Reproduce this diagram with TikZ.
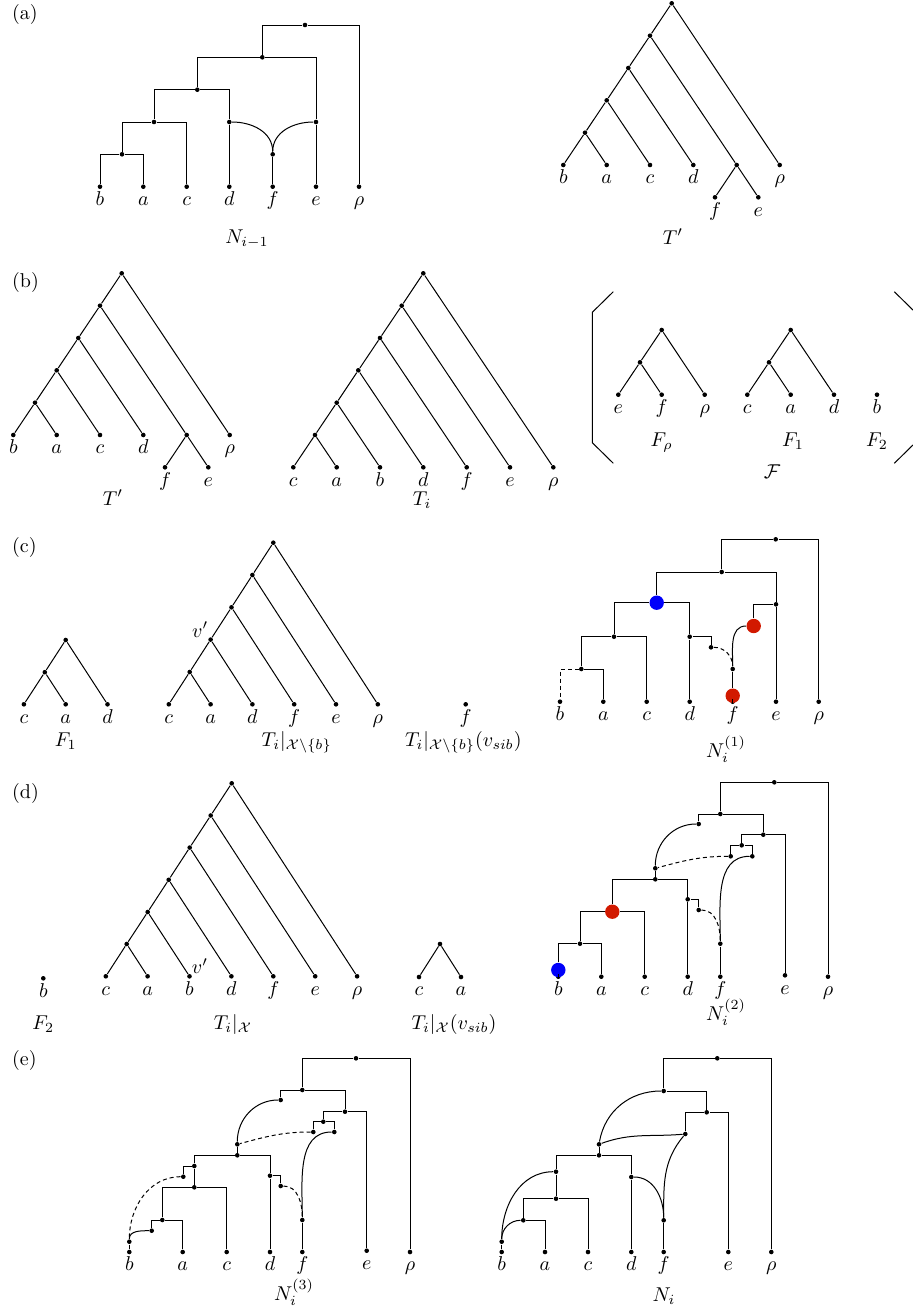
\documentclass[tikz,border=0pt]{standalone}
\usepackage{amsmath}
\usepackage{tikz}

\definecolor{nodeblue}{RGB}{0,0,250}
\definecolor{nodered}{RGB}{210,25,0}

\tikzset{
    dot/.style={circle, fill, inner sep=0pt, minimum size=2.3pt},
    leaflab/.style={inner sep=1.3pt, text height=1.5ex, text depth=.25ex},
    leaf/.style={dot, label={[leaflab]below:$#1$}},
    bigdot/.style={circle, fill=#1, inner sep=0pt, minimum size=7.2pt},
    dashedge/.style={dash pattern=on 2pt off 1.5pt},
    panel/.style={anchor=west},
    caption/.style={anchor=base},
}

\begin{document}
\begin{tikzpicture}[x=0.5pt, y=-0.5pt, line width=0.5pt]
    \useasboundingbox (0,0) rectangle (912,1312);

    % (a) N_{i-1} and T'
    \node[panel] (labA) at (5,14) {(a)};
    \node[leaf=b] (Na-b) at (100,186.7) {};
    \node[leaf=a] (Na-a) at (143.3,186.7) {};
    \node[leaf=c] (Na-c) at (186.7,186.7) {};
    \node[leaf=d] (Na-d) at (229.3,186.7) {};
    \node[leaf=f] (Na-f) at (272.7,186.7) {};
    \node[leaf=e] (Na-e) at (316,186.7) {};
    \node[leaf=\rho] (Na-r) at (359,186.7) {};
    \node[dot] (Na-1) at (122,154.3) {};
    \node[dot] (Na-2) at (154,122) {};
    \node[dot] (Na-3) at (197.3,89.7) {};
    \node[dot] (Na-d1) at (229.3,122) {};
    \node[dot] (Na-e1) at (316,122) {};
    \node[dot] (Na-f1) at (272.7,154.3) {};
    \node[dot] (Na-4) at (262.3,57.3) {};
    \node[dot] (Na-5) at (305,25) {};
    \node[caption] (capNa) at (247,243) {$N_{i-1}$};
    \draw (Na-b) |- (Na-1) -| (Na-a);
    \draw (Na-1) |- (Na-2) -| (Na-c);
    \draw (Na-2) |- (Na-3) -| (Na-d1);
    \draw (Na-d1) -- (Na-d);
    \draw (Na-d1) to[out=0,in=90] (Na-f1);
    \draw (Na-e1) to[out=180,in=90] (Na-f1);
    \draw (Na-f1) -- (Na-f);
    \draw (Na-e1) -- (Na-e);
    \draw (Na-3) |- (Na-4) -| (Na-e1);
    \draw (Na-4) |- (Na-5) -| (Na-r);

    \node[dot] (Ta-0) at (671.7,3.3) {};
    \node[dot] (Ta-1) at (650,35.7) {};
    \node[dot] (Ta-2) at (628.3,68) {};
    \node[dot] (Ta-3) at (606.7,100.3) {};
    \node[dot] (Ta-4) at (585,132.7) {};
    \node[leaf=b] (Ta-b) at (563.3,165) {};
    \node[leaf=a] (Ta-a) at (606.7,165) {};
    \node[leaf=c] (Ta-c) at (650,165) {};
    \node[leaf=d] (Ta-d) at (693.3,165) {};
    \node[dot] (Ta-fe) at (736.7,165) {};
    \node[leaf=\rho] (Ta-r) at (779.7,165) {};
    \node[leaf=f] (Ta-f) at (715,197.3) {};
    \node[leaf=e] (Ta-e) at (758.3,197.3) {};
    \node[caption] (capTa) at (673,244) {$T'$};
    \draw (Ta-0) -- (Ta-1);
    \draw (Ta-0) -- (Ta-r);
    \draw (Ta-1) -- (Ta-2);
    \draw (Ta-1) -- (Ta-fe);
    \draw (Ta-2) -- (Ta-3);
    \draw (Ta-2) -- (Ta-d);
    \draw (Ta-3) -- (Ta-4);
    \draw (Ta-3) -- (Ta-c);
    \draw (Ta-4) -- (Ta-b);
    \draw (Ta-4) -- (Ta-a);
    \draw (Ta-fe) -- (Ta-f);
    \draw (Ta-fe) -- (Ta-e);

    % (b) T', T_i and the forest
    \node[panel] (labB) at (5,282) {(b)};
    \node[dot] (Tb-0) at (121.7,273.3) {};
    \node[dot] (Tb-1) at (100,305.7) {};
    \node[dot] (Tb-2) at (78.3,338) {};
    \node[dot] (Tb-3) at (56.7,370.3) {};
    \node[dot] (Tb-4) at (35,402.7) {};
    \node[leaf=b] (Tb-b) at (13.3,435) {};
    \node[leaf=a] (Tb-a) at (56.7,435) {};
    \node[leaf=c] (Tb-c) at (100,435) {};
    \node[leaf=d] (Tb-d) at (143.3,435) {};
    \node[dot] (Tb-fe) at (186.7,435) {};
    \node[leaf=\rho] (Tb-r) at (229.7,435) {};
    \node[leaf=f] (Tb-f) at (165,467.3) {};
    \node[leaf=e] (Tb-e) at (208.3,467.3) {};
    \node[caption] (capTb) at (113,505) {$T'$};
    \draw (Tb-0) -- (Tb-1);
    \draw (Tb-0) -- (Tb-r);
    \draw (Tb-1) -- (Tb-2);
    \draw (Tb-1) -- (Tb-fe);
    \draw (Tb-2) -- (Tb-3);
    \draw (Tb-2) -- (Tb-d);
    \draw (Tb-3) -- (Tb-4);
    \draw (Tb-3) -- (Tb-c);
    \draw (Tb-4) -- (Tb-b);
    \draw (Tb-4) -- (Tb-a);
    \draw (Tb-fe) -- (Tb-f);
    \draw (Tb-fe) -- (Tb-e);

    \node[dot] (Ti-0) at (423.3,273.3) {};
    \node[dot] (Ti-1) at (401.7,305.7) {};
    \node[dot] (Ti-2) at (380,338) {};
    \node[dot] (Ti-3) at (358.3,370.3) {};
    \node[dot] (Ti-4) at (336.7,402.7) {};
    \node[dot] (Ti-5) at (315,435) {};
    \node[leaf=c] (Ti-c) at (293.3,467.3) {};
    \node[leaf=a] (Ti-a) at (336.7,467.3) {};
    \node[leaf=b] (Ti-b) at (380,467.3) {};
    \node[leaf=d] (Ti-d) at (423.3,467.3) {};
    \node[leaf=f] (Ti-f) at (466.7,467.3) {};
    \node[leaf=e] (Ti-e) at (510,467.3) {};
    \node[leaf=\rho] (Ti-r) at (553.3,467.3) {};
    \node[caption] (capTi) at (422,505) {$T_i$};
    \draw (Ti-0) -- (Ti-1);
    \draw (Ti-0) -- (Ti-r);
    \draw (Ti-1) -- (Ti-2);
    \draw (Ti-1) -- (Ti-e);
    \draw (Ti-2) -- (Ti-3);
    \draw (Ti-2) -- (Ti-f);
    \draw (Ti-3) -- (Ti-4);
    \draw (Ti-3) -- (Ti-d);
    \draw (Ti-4) -- (Ti-5);
    \draw (Ti-4) -- (Ti-b);
    \draw (Ti-5) -- (Ti-c);
    \draw (Ti-5) -- (Ti-a);

    \draw (613.3,291.7) -- (592.3,312.3) -- (592.3,442.7) -- (613.3,463.3);
    \draw (894.3,291.7) -- (915.3,312.3) -- (915.3,442.7) -- (894.3,463.3);
    \node[dot] (Fr-0) at (661.7,330) {};
    \node[dot] (Fr-1) at (640,362.3) {};
    \node[leaf=e] (Fr-e) at (618.3,394.7) {};
    \node[leaf=f] (Fr-f) at (661.7,394.7) {};
    \node[leaf=\rho] (Fr-r) at (704.7,394.7) {};
    \node[dot] (Fo-0) at (790.7,330) {};
    \node[dot] (Fo-1) at (769,362.3) {};
    \node[leaf=c] (Fo-c) at (747.3,394.7) {};
    \node[leaf=a] (Fo-a) at (790.7,394.7) {};
    \node[leaf=d] (Fo-d) at (834,394.7) {};
    \node[leaf=b] (Ft-b) at (877,394.7) {};
    \node[caption] (capFr) at (661.7,446) {$F_\rho$};
    \node[caption] (capFo) at (793,446) {$F_1$};
    \node[caption] (capFt) at (877,446) {$F_2$};
    \node[caption] (capF) at (772,478) {$\mathcal{F}$};
    \draw (Fr-0) -- (Fr-1);
    \draw (Fr-0) -- (Fr-r);
    \draw (Fr-1) -- (Fr-e);
    \draw (Fr-1) -- (Fr-f);
    \draw (Fo-0) -- (Fo-1);
    \draw (Fo-0) -- (Fo-d);
    \draw (Fo-1) -- (Fo-c);
    \draw (Fo-1) -- (Fo-a);

    % (c) first step, leaf b
    \node[panel] (labC) at (5,547) {(c)};
    \node[dot] (Fc-0) at (65.7,640) {};
    \node[dot] (Fc-1) at (44.8,672.2) {};
    \node[leaf=c] (Fc-c) at (23.9,704.3) {};
    \node[leaf=a] (Fc-a) at (65.7,704.3) {};
    \node[leaf=d] (Fc-d) at (107.5,704.3) {};
    \node[caption] (capFc) at (65.7,746) {$F_1$};
    \draw (Fc-0) -- (Fc-1);
    \draw (Fc-0) -- (Fc-d);
    \draw (Fc-1) -- (Fc-c);
    \draw (Fc-1) -- (Fc-a);

    \node[dot] (Tc-0) at (273.3,542.7) {};
    \node[dot] (Tc-1) at (252.4,575) {};
    \node[dot] (Tc-2) at (231.5,607.3) {};
    \node[dot, label={[inner sep=0pt]above left:$v'$}] (Tc-3) at (210.6,639.6) {};
    \node[dot] (Tc-4) at (189.7,672) {};
    \node[leaf=c] (Tc-c) at (168.8,704.3) {};
    \node[leaf=a] (Tc-a) at (210.6,704.3) {};
    \node[leaf=d] (Tc-d) at (252.4,704.3) {};
    \node[leaf=f] (Tc-f) at (294.2,704.3) {};
    \node[leaf=e] (Tc-e) at (336,704.3) {};
    \node[leaf=\rho] (Tc-r) at (377.8,704.3) {};
    \node[caption] (capTc) at (296.7,746) {$T_i|_{\mathcal{X}\setminus\{b\}}$};
    \draw (Tc-0) -- (Tc-1);
    \draw (Tc-0) -- (Tc-r);
    \draw (Tc-1) -- (Tc-2);
    \draw (Tc-1) -- (Tc-e);
    \draw (Tc-2) -- (Tc-3);
    \draw (Tc-2) -- (Tc-f);
    \draw (Tc-3) -- (Tc-4);
    \draw (Tc-3) -- (Tc-d);
    \draw (Tc-4) -- (Tc-c);
    \draw (Tc-4) -- (Tc-a);

    \node[leaf=f] (Sc-f) at (465.7,704.3) {};
    \node[caption] (capSc) at (463.3,746) {$T_i|_{\mathcal{X}\setminus\{b\}}(v_{sib})$};

    \node[leaf=b] (N1-b) at (560,701.7) {};
    \node[leaf=a] (N1-a) at (603.3,701.7) {};
    \node[leaf=c] (N1-c) at (646.7,701.7) {};
    \node[leaf=d] (N1-d) at (689.7,701.7) {};
    \node[leaf=f] (N1-f) at (732.7,701.7) {};
    \node[leaf=e] (N1-e) at (776,701.7) {};
    \node[leaf=\rho] (N1-r) at (818.7,701.7) {};
    \node[dot] (N1-0) at (775.7,539.3) {};
    \node[dot] (N1-1) at (721.7,572) {};
    \node[bigdot=nodeblue] (N1-2) at (656.7,602.7) {};
    \node[dot] (N1-e1) at (776,604.3) {};
    \node[bigdot=nodered] (N1-e2) at (753.7,626) {};
    \node[dot] (N1-3) at (614,636.7) {};
    \node[dot] (N1-4) at (581.3,669) {};
    \node[dot] (N1-d1) at (689.7,636.7) {};
    \node[dot] (N1-d2) at (711,647.3) {};
    \node[dot] (N1-f1) at (732.7,669) {};
    \node[bigdot=nodered] (N1-f0) at (732.7,695.7) {};
    \node[caption] (capN1) at (726,757) {$N_i^{(1)}$};
    \draw (N1-1) |- (N1-0) -| (N1-r);
    \draw (N1-2) |- (N1-1) -| (N1-e1);
    \draw (N1-e1) -- (N1-e);
    \draw (N1-e1) -| (N1-e2);
    \draw (N1-e2) to[out=180,in=90] (N1-f1);
    \draw (N1-3) |- (N1-2) -| (N1-d1);
    \draw (N1-4) |- (N1-3) -| (N1-c);
    \draw (N1-4) -| (N1-a);
    \draw[dashedge] (N1-4) -| (N1-b);
    \draw (N1-d1) -- (N1-d);
    \draw (N1-d1) -| (N1-d2);
    \draw[dashedge] (N1-d2) to[out=0,in=90] (N1-f1);
    \draw (N1-f1) -- (N1-f0);
    \draw (N1-f0) -- (N1-f);

    % (d) second step, leaf c a
    \node[panel] (labD) at (5,793) {(d)};
    \node[leaf=b] (Fd-b) at (43.3,978.3) {};
    \node[caption] (capFd) at (43.3,1029) {$F_2$};

    \node[dot] (Td-0) at (231.7,783.3) {};
    \node[dot] (Td-1) at (210.7,815.5) {};
    \node[dot] (Td-2) at (189.7,847.6) {};
    \node[dot] (Td-3) at (168.7,879.8) {};
    \node[dot] (Td-4) at (147.7,912) {};
    \node[dot] (Td-5) at (126.7,944) {};
    \node[leaf=c] (Td-c) at (105.8,976.3) {};
    \node[leaf=a] (Td-a) at (147.6,976.3) {};
    \node[leaf=b, label={[inner sep=0pt]above right:$v'$}] (Td-b) at (189.5,976.3) {};
    \node[leaf=d] (Td-d) at (231.4,976.3) {};
    \node[leaf=f] (Td-f) at (273.3,976.3) {};
    \node[leaf=e] (Td-e) at (315.2,976.3) {};
    \node[leaf=\rho] (Td-r) at (357.1,976.3) {};
    \node[caption] (capTd) at (233,1029) {$T_i|_{\mathcal{X}}$};
    \draw (Td-0) -- (Td-1);
    \draw (Td-0) -- (Td-r);
    \draw (Td-1) -- (Td-2);
    \draw (Td-1) -- (Td-e);
    \draw (Td-2) -- (Td-3);
    \draw (Td-2) -- (Td-f);
    \draw (Td-3) -- (Td-4);
    \draw (Td-3) -- (Td-d);
    \draw (Td-4) -- (Td-5);
    \draw (Td-4) -- (Td-b);
    \draw (Td-5) -- (Td-c);
    \draw (Td-5) -- (Td-a);

    \node[dot] (Sd-0) at (440,944) {};
    \node[leaf=c] (Sd-c) at (419,977) {};
    \node[leaf=a] (Sd-a) at (461,977) {};
    \node[caption] (capSd) at (454,1029) {$T_i|_{\mathcal{X}}(v_{sib})$};
    \draw (Sd-0) -- (Sd-c);
    \draw (Sd-0) -- (Sd-a);

    \node[leaf=b] (N2-b) at (558.3,976.7) {};
    \node[leaf=a] (N2-a) at (601.3,976.7) {};
    \node[leaf=c] (N2-c) at (644.7,976.7) {};
    \node[leaf=d] (N2-d) at (687.7,976.7) {};
    \node[leaf=f] (N2-f) at (720.3,976.7) {};
    \node[leaf=e] (N2-e) at (785,975.3) {};
    \node[leaf=\rho] (N2-r) at (828,976.7) {};
    \node[dot] (N2-0) at (774.3,782.3) {};
    \node[dot] (N2-1) at (720.3,814) {};
    \node[dot] (N2-2) at (698.7,824) {};
    \node[dot] (N2-3) at (763.3,834.7) {};
    \node[dot] (N2-4) at (741.7,845.3) {};
    \node[dot] (N2-5) at (730.7,856.3) {};
    \node[dot] (N2-6) at (752.3,856.3) {};
    \node[dot] (N2-7) at (655.3,868.3) {};
    \node[dot] (N2-8) at (655.3,879.3) {};
    \node[bigdot=nodered] (N2-9) at (612.3,911.7) {};
    \node[dot] (N2-10) at (580,943.7) {};
    \node[dot] (N2-d1) at (687.7,899.3) {};
    \node[dot] (N2-d2) at (698.7,910) {};
    \node[dot] (N2-f1) at (720.3,943.7) {};
    \node[bigdot=nodeblue] (N2-b0) at (558.3,970) {};
    \node[caption] (capN2) at (726,1020) {$N_i^{(2)}$};
    \draw (N2-1) |- (N2-0) -| (N2-r);
    \draw (N2-2) |- (N2-1) -| (N2-3);
    \draw (N2-2) to[out=180,in=90] (N2-7);
    \draw (N2-4) |- (N2-3) -| (N2-e);
    \draw (N2-5) |- (N2-4) -| (N2-6);
    \draw[dashedge] (N2-5) to[out=180,in=15] (N2-7);
    \draw (N2-6) to[out=180,in=90] (N2-f1);
    \draw (N2-7) -- (N2-8);
    \draw (N2-9) |- (N2-8) -| (N2-d1);
    \draw (N2-10) |- (N2-9) -| (N2-c);
    \draw (N2-b0) |- (N2-10) -| (N2-a);
    \draw (N2-b0) -- (N2-b);
    \draw (N2-d1) -- (N2-d);
    \draw (N2-d1) -| (N2-d2);
    \draw[dashedge] (N2-d2) to[out=0,in=90] (N2-f1);
    \draw (N2-f1) -- (N2-f);

    % (e) last step and the result
    \node[panel] (labE) at (5,1060) {(e)};
    \node[leaf=b] (N3-b) at (129.3,1252) {};
    \node[leaf=a] (N3-a) at (182.7,1252) {};
    \node[leaf=c] (N3-c) at (226.7,1252) {};
    \node[leaf=d] (N3-d) at (270,1252) {};
    \node[leaf=f] (N3-f) at (302.3,1252) {};
    \node[leaf=e] (N3-e) at (366.7,1250.7) {};
    \node[leaf=\rho] (N3-r) at (410,1252) {};
    \node[dot] (N3-0) at (356,1058.3) {};
    \node[dot] (N3-1) at (302.3,1090) {};
    \node[dot] (N3-2) at (280.7,1100) {};
    \node[dot] (N3-3) at (345,1111.7) {};
    \node[dot] (N3-4) at (323.3,1121.7) {};
    \node[dot] (N3-5) at (313.3,1132) {};
    \node[dot] (N3-6) at (334.3,1132) {};
    \node[dot] (N3-7) at (237.3,1144.3) {};
    \node[dot] (N3-8) at (237.3,1155.3) {};
    \node[dot] (N3-9) at (194.3,1166) {};
    \node[dot] (N3-9l) at (183.3,1176.7) {};
    \node[dot] (N3-10) at (194.3,1187.3) {};
    \node[dot] (N3-11) at (162.3,1220) {};
    \node[dot] (N3-12) at (151.7,1230.7) {};
    \node[dot] (N3-b1) at (129.3,1241.7) {};
    \node[dot] (N3-d1) at (270,1175.7) {};
    \node[dot] (N3-d2) at (280.7,1186) {};
    \node[dot] (N3-f1) at (302.3,1220) {};
    \node[caption] (capN3) at (294,1300) {$N_i^{(3)}$};
    \draw (N3-1) |- (N3-0) -| (N3-r);
    \draw (N3-2) |- (N3-1) -| (N3-3);
    \draw (N3-2) to[out=180,in=90] (N3-7);
    \draw (N3-4) |- (N3-3) -| (N3-e);
    \draw (N3-5) |- (N3-4) -| (N3-6);
    \draw[dashedge] (N3-5) to[out=180,in=15] (N3-7);
    \draw (N3-6) to[out=180,in=90] (N3-f1);
    \draw (N3-7) -- (N3-8);
    \draw (N3-9) |- (N3-8) -| (N3-d1);
    \draw (N3-9) -| (N3-9l);
    \draw (N3-9) -- (N3-10);
    \draw[dashedge] (N3-9l) to[out=180,in=90] (N3-b1);
    \draw (N3-11) |- (N3-10) -| (N3-c);
    \draw (N3-12) |- (N3-11) -| (N3-a);
    \draw (N3-12) to[out=180,in=90] (N3-b1);
    \draw (N3-b1) -- (N3-b);
    \draw (N3-d1) -- (N3-d);
    \draw (N3-d1) -| (N3-d2);
    \draw[dashedge] (N3-d2) to[out=0,in=90] (N3-f1);
    \draw (N3-f1) -- (N3-f);

    \node[leaf=b] (Ni-b) at (501.7,1252) {};
    \node[leaf=a] (Ni-a) at (545,1252) {};
    \node[leaf=c] (Ni-c) at (588,1252) {};
    \node[leaf=d] (Ni-d) at (631.3,1252) {};
    \node[leaf=f] (Ni-f) at (663.7,1252) {};
    \node[leaf=e] (Ni-e) at (728.3,1252) {};
    \node[leaf=\rho] (Ni-r) at (771.3,1252) {};
    \node[dot] (Ni-0) at (717.3,1058.3) {};
    \node[dot] (Ni-1) at (663.7,1091) {};
    \node[dot] (Ni-3) at (706.7,1112.3) {};
    \node[dot] (Ni-4) at (685.3,1134) {};
    \node[dot] (Ni-6) at (599,1144.3) {};
    \node[dot] (Ni-7) at (599,1155.3) {};
    \node[dot] (Ni-8) at (556,1171.7) {};
    \node[dot] (Ni-9) at (556,1198.7) {};
    \node[dot] (Ni-10) at (523.3,1220.3) {};
    \node[dot] (Ni-b1) at (501.7,1241.7) {};
    \node[dot] (Ni-d1) at (631.3,1177) {};
    \node[dot] (Ni-f1) at (663.7,1220.3) {};
    \node[caption] (capNi) at (664,1301) {$N_i$};
    \draw (Ni-1) |- (Ni-0) -| (Ni-r);
    \draw (Ni-1) -| (Ni-3);
    \draw (Ni-1) to[out=180,in=80] (Ni-6);
    \draw (Ni-4) |- (Ni-3) -| (Ni-e);
    \draw (Ni-4) to[out=185,in=20] (Ni-6);
    \draw (Ni-4) to[out=230,in=90] (Ni-f1);
    \draw (Ni-6) -- (Ni-7);
    \draw (Ni-8) |- (Ni-7) -| (Ni-d1);
    \draw (Ni-8) -- (Ni-9);
    \draw (Ni-8) to[out=180,in=90] (Ni-b1);
    \draw (Ni-10) |- (Ni-9) -| (Ni-c);
    \draw (Ni-10) -| (Ni-a);
    \draw (Ni-10) to[out=180,in=90] (Ni-b1);
    \draw (Ni-b1) -- (Ni-b);
    \draw (Ni-d1) -- (Ni-d);
    \draw (Ni-d1) to[out=0,in=90] (Ni-f1);
    \draw (Ni-f1) -- (Ni-f);
\end{tikzpicture}
\end{document}
